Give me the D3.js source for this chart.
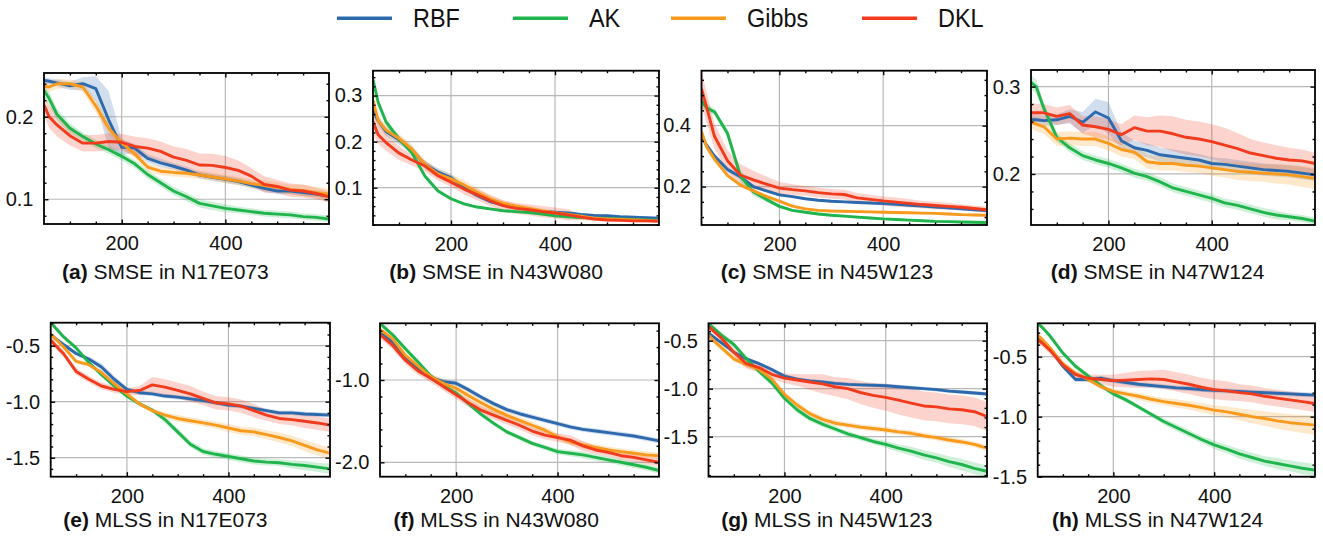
<!DOCTYPE html>
<html><head><meta charset="utf-8">
<script src="https://cdn.jsdelivr.net/npm/d3@7"></script>
<style>
body{margin:0;background:#fff}
svg{display:block}
text{font-family:"Liberation Sans",Arial,Helvetica,sans-serif;fill:#111}
</style></head><body>
<svg id="chart" width="1323" height="546"></svg>
<script>
// ---------------- data ----------------
const xs = [50,60,75,100,125,150,175,200,225,250,275,300,325,350,375,400,425,450,475,500,525,550,575,600];
const methods = ["RBF","AK","Gibbs","DKL"];
const colors = ["#2c6aad","#1fb54c","#f99a1c","#f23b1c"];

// (a) SMSE in N17E073
const a_RBF   = [0.244,0.243,0.241,0.2375,0.240,0.234,0.196,0.163,0.162,0.1496,0.144,0.140,0.1354,0.1294,0.1266,0.1241,0.1213,0.1173,0.1132,0.110,0.110,0.108,0.1064,0.104];
const a_AK    = [0.232,0.222,0.203,0.186,0.176,0.167,0.160,0.152,0.143,0.130,0.120,0.110,0.103,0.095,0.092,0.089,0.087,0.085,0.083,0.082,0.081,0.079,0.078,0.076];
const a_Gibbs = [0.237,0.236,0.240,0.240,0.236,0.213,0.186,0.168,0.155,0.139,0.134,0.1325,0.1315,0.1294,0.127,0.1245,0.122,0.119,0.117,0.1145,0.112,0.1105,0.108,0.106];
const a_DKL   = [0.214,0.200,0.190,0.177,0.168,0.168,0.170,0.169,0.164,0.162,0.158,0.151,0.147,0.1415,0.141,0.1385,0.135,0.128,0.118,0.1155,0.111,0.110,0.107,0.103];
const a_RBF_sd   = [0.004,0.004,0.004,0.005,0.008,0.015,0.035,0.01,0.005,0.005,0.005,0.004,0.004,0.004,0.004,0.004,0.004,0.004,0.004,0.004,0.004,0.004,0.004,0.004];
const a_AK_sd    = [0.008,0.008,0.007,0.006,0.005,0.005,0.005,0.005,0.005,0.005,0.005,0.005,0.005,0.005,0.005,0.005,0.004,0.004,0.004,0.004,0.004,0.004,0.004,0.004];
const a_Gibbs_sd = [0.006,0.006,0.006,0.005,0.006,0.008,0.008,0.006,0.005,0.005,0.005,0.005,0.005,0.005,0.005,0.005,0.005,0.005,0.006,0.006,0.006,0.007,0.007,0.007];
const a_DKL_sd   = [0.012,0.014,0.014,0.012,0.010,0.010,0.010,0.010,0.012,0.012,0.012,0.013,0.014,0.014,0.014,0.014,0.012,0.010,0.010,0.008,0.008,0.008,0.007,0.007];

// (b) SMSE in N43W080
const b_RBF   = [0.268,0.245,0.222,0.204,0.182,0.150,0.134,0.122,0.100,0.083,0.070,0.062,0.058,0.053,0.049,0.047,0.045,0.042,0.040,0.039,0.037,0.036,0.035,0.034];
const b_AK    = [0.335,0.285,0.243,0.206,0.175,0.125,0.093,0.076,0.065,0.058,0.054,0.050,0.048,0.046,0.043,0.039,0.037,0.035,0.034,0.033,0.032,0.031,0.030,0.029];
const b_Gibbs = [0.290,0.245,0.225,0.207,0.183,0.150,0.130,0.119,0.106,0.090,0.076,0.066,0.060,0.055,0.050,0.046,0.042,0.038,0.034,0.032,0.031,0.030,0.029,0.028];
const b_DKL   = [0.243,0.215,0.198,0.175,0.160,0.147,0.126,0.112,0.097,0.085,0.072,0.061,0.055,0.052,0.048,0.045,0.041,0.036,0.032,0.030,0.029,0.028,0.028,0.027];
const b_RBF_sd   = [0.012,0.010,0.010,0.010,0.008,0.008,0.008,0.008,0.006,0.005,0.004,0.003,0.003,0.003,0.003,0.003,0.003,0.003,0.003,0.003,0.003,0.003,0.003,0.003];
const b_AK_sd    = [0.015,0.010,0.008,0.006,0.005,0.005,0.004,0.004,0.003,0.003,0.003,0.003,0.003,0.003,0.003,0.003,0.003,0.003,0.003,0.003,0.003,0.003,0.003,0.003];
const b_Gibbs_sd = [0.012,0.012,0.012,0.010,0.010,0.010,0.010,0.010,0.010,0.010,0.008,0.006,0.005,0.005,0.004,0.004,0.004,0.004,0.003,0.003,0.003,0.003,0.003,0.003];
const b_DKL_sd   = [0.025,0.020,0.018,0.015,0.012,0.012,0.010,0.010,0.012,0.012,0.012,0.012,0.012,0.012,0.012,0.012,0.012,0.006,0.004,0.003,0.003,0.003,0.003,0.003];

// (c) SMSE in N45W123
const c_RBF   = [0.364,0.335,0.300,0.256,0.232,0.200,0.186,0.173,0.167,0.160,0.155,0.152,0.150,0.148,0.146,0.144,0.142,0.139,0.136,0.133,0.130,0.127,0.124,0.121];
const c_AK    = [0.480,0.458,0.445,0.375,0.235,0.182,0.158,0.135,0.122,0.116,0.110,0.106,0.103,0.100,0.097,0.094,0.092,0.090,0.088,0.086,0.085,0.084,0.083,0.082];
const c_Gibbs = [0.380,0.330,0.290,0.237,0.205,0.186,0.168,0.152,0.136,0.127,0.122,0.120,0.119,0.118,0.117,0.116,0.115,0.114,0.113,0.112,0.110,0.108,0.107,0.106];
const c_DKL   = [0.520,0.460,0.365,0.285,0.238,0.222,0.208,0.195,0.190,0.186,0.180,0.176,0.174,0.163,0.158,0.153,0.149,0.145,0.141,0.138,0.135,0.132,0.128,0.124];
const c_RBF_sd   = [0.010,0.010,0.010,0.010,0.008,0.006,0.005,0.005,0.004,0.004,0.004,0.004,0.004,0.004,0.004,0.004,0.004,0.004,0.004,0.004,0.004,0.004,0.004,0.004];
const c_AK_sd    = [0.020,0.015,0.010,0.015,0.020,0.012,0.008,0.006,0.004,0.004,0.004,0.004,0.004,0.004,0.004,0.004,0.004,0.004,0.004,0.004,0.004,0.004,0.004,0.004];
const c_Gibbs_sd = [0.015,0.012,0.010,0.008,0.006,0.005,0.005,0.005,0.005,0.004,0.004,0.004,0.004,0.004,0.004,0.004,0.004,0.004,0.004,0.004,0.004,0.004,0.004,0.004];
const c_DKL_sd   = [0.060,0.050,0.040,0.035,0.035,0.030,0.025,0.020,0.018,0.016,0.016,0.016,0.016,0.016,0.015,0.015,0.015,0.014,0.012,0.012,0.012,0.010,0.010,0.010];

// (d) SMSE in N47W124
const d_RBF   = [0.262,0.262,0.261,0.262,0.266,0.259,0.271,0.264,0.238,0.230,0.227,0.222,0.220,0.218,0.216,0.212,0.211,0.209,0.207,0.205,0.204,0.203,0.201,0.199];
const d_AK    = [0.305,0.300,0.275,0.242,0.230,0.221,0.216,0.212,0.207,0.201,0.197,0.191,0.184,0.180,0.176,0.172,0.167,0.164,0.160,0.156,0.153,0.151,0.149,0.146];
const d_Gibbs = [0.260,0.257,0.254,0.240,0.241,0.240,0.240,0.235,0.228,0.225,0.214,0.212,0.212,0.210,0.209,0.207,0.205,0.203,0.202,0.201,0.200,0.199,0.197,0.195];
const d_DKL   = [0.270,0.270,0.270,0.266,0.269,0.256,0.254,0.251,0.245,0.253,0.249,0.249,0.246,0.242,0.240,0.237,0.233,0.229,0.224,0.221,0.218,0.216,0.215,0.212];
const d_RBF_sd   = [0.006,0.006,0.006,0.006,0.008,0.012,0.015,0.018,0.010,0.008,0.008,0.008,0.008,0.008,0.007,0.007,0.007,0.007,0.007,0.007,0.007,0.007,0.007,0.007];
const d_AK_sd    = [0.008,0.008,0.006,0.005,0.005,0.005,0.005,0.005,0.005,0.005,0.005,0.005,0.005,0.005,0.005,0.005,0.005,0.005,0.005,0.005,0.005,0.004,0.004,0.004];
const d_Gibbs_sd = [0.008,0.008,0.008,0.008,0.008,0.008,0.008,0.008,0.008,0.008,0.008,0.008,0.008,0.008,0.008,0.009,0.009,0.010,0.010,0.010,0.011,0.011,0.012,0.012];
const d_DKL_sd   = [0.012,0.010,0.010,0.010,0.010,0.010,0.012,0.012,0.012,0.014,0.016,0.018,0.020,0.020,0.020,0.020,0.020,0.018,0.016,0.015,0.015,0.014,0.013,0.012];

// (e) MLSS in N17E073
const e_RBF   = [-0.40,-0.44,-0.49,-0.57,-0.62,-0.69,-0.80,-0.89,-0.92,-0.93,-0.95,-0.96,-0.975,-0.99,-1.01,-1.03,-1.04,-1.06,-1.08,-1.10,-1.10,-1.11,-1.115,-1.12];
const e_AK    = [-0.29,-0.345,-0.42,-0.52,-0.65,-0.76,-0.86,-0.95,-1.02,-1.075,-1.16,-1.27,-1.38,-1.445,-1.47,-1.49,-1.51,-1.53,-1.54,-1.545,-1.56,-1.57,-1.585,-1.60];
const e_Gibbs = [-0.40,-0.44,-0.51,-0.64,-0.67,-0.74,-0.84,-0.93,-1.02,-1.08,-1.12,-1.15,-1.17,-1.19,-1.21,-1.235,-1.26,-1.27,-1.295,-1.32,-1.35,-1.39,-1.43,-1.46];
const e_DKL   = [-0.45,-0.50,-0.57,-0.73,-0.80,-0.86,-0.89,-0.91,-0.90,-0.85,-0.87,-0.90,-0.93,-0.97,-1.01,-1.02,-1.04,-1.08,-1.12,-1.15,-1.16,-1.175,-1.19,-1.21];
const e_RBF_sd   = [0.02,0.02,0.02,0.02,0.02,0.03,0.03,0.02,0.02,0.02,0.02,0.02,0.02,0.02,0.02,0.02,0.02,0.02,0.02,0.02,0.02,0.02,0.02,0.02];
const e_AK_sd    = [0.02,0.02,0.02,0.02,0.02,0.02,0.02,0.02,0.02,0.02,0.03,0.03,0.03,0.03,0.03,0.03,0.03,0.03,0.03,0.03,0.035,0.04,0.04,0.045];
const e_Gibbs_sd = [0.02,0.02,0.02,0.02,0.02,0.02,0.02,0.02,0.02,0.02,0.025,0.03,0.03,0.03,0.03,0.035,0.035,0.04,0.04,0.045,0.045,0.05,0.05,0.05];
const e_DKL_sd   = [0.03,0.03,0.03,0.03,0.03,0.03,0.03,0.03,0.04,0.07,0.07,0.07,0.07,0.06,0.06,0.06,0.06,0.06,0.05,0.05,0.05,0.06,0.06,0.06];

// (f) MLSS in N43W080
const f_RBF   = [-0.43,-0.47,-0.54,-0.72,-0.86,-0.97,-1.02,-1.04,-1.12,-1.21,-1.29,-1.36,-1.41,-1.45,-1.49,-1.53,-1.57,-1.60,-1.62,-1.64,-1.66,-1.68,-1.71,-1.74];
const f_AK    = [-0.31,-0.37,-0.45,-0.62,-0.78,-0.95,-1.07,-1.16,-1.29,-1.42,-1.53,-1.63,-1.70,-1.77,-1.82,-1.87,-1.89,-1.91,-1.94,-1.97,-2.00,-2.03,-2.06,-2.10];
const f_Gibbs = [-0.39,-0.43,-0.50,-0.70,-0.83,-0.96,-1.04,-1.10,-1.19,-1.28,-1.36,-1.43,-1.49,-1.55,-1.61,-1.69,-1.75,-1.79,-1.82,-1.85,-1.87,-1.89,-1.91,-1.92];
const f_DKL   = [-0.45,-0.50,-0.58,-0.76,-0.89,-0.98,-1.08,-1.18,-1.28,-1.37,-1.43,-1.49,-1.55,-1.62,-1.67,-1.70,-1.73,-1.80,-1.85,-1.88,-1.92,-1.94,-1.97,-2.00];
const f_RBF_sd   = [0.03,0.03,0.03,0.03,0.03,0.03,0.03,0.03,0.03,0.03,0.03,0.03,0.03,0.03,0.03,0.03,0.03,0.03,0.03,0.03,0.03,0.03,0.03,0.03];
const f_AK_sd    = [0.03,0.03,0.03,0.03,0.03,0.03,0.03,0.03,0.03,0.03,0.03,0.03,0.03,0.03,0.03,0.035,0.035,0.04,0.04,0.04,0.04,0.04,0.04,0.04];
const f_Gibbs_sd = [0.04,0.04,0.04,0.04,0.04,0.04,0.05,0.07,0.08,0.08,0.06,0.05,0.04,0.04,0.04,0.04,0.04,0.04,0.04,0.04,0.04,0.04,0.04,0.04];
const f_DKL_sd   = [0.05,0.05,0.05,0.05,0.05,0.05,0.05,0.05,0.05,0.05,0.05,0.05,0.05,0.05,0.05,0.05,0.06,0.06,0.05,0.05,0.05,0.05,0.05,0.05];

// (g) MLSS in N45W123
const g_RBF   = [-0.42,-0.46,-0.52,-0.62,-0.69,-0.74,-0.80,-0.87,-0.90,-0.92,-0.93,-0.945,-0.955,-0.96,-0.965,-0.97,-0.98,-0.99,-1.00,-1.01,-1.025,-1.035,-1.045,-1.055];
const g_AK    = [-0.32,-0.37,-0.44,-0.54,-0.69,-0.82,-0.94,-1.10,-1.22,-1.31,-1.37,-1.42,-1.47,-1.51,-1.55,-1.58,-1.62,-1.65,-1.69,-1.72,-1.76,-1.79,-1.83,-1.86];
const g_Gibbs = [-0.44,-0.50,-0.57,-0.69,-0.75,-0.80,-0.90,-1.06,-1.17,-1.26,-1.32,-1.36,-1.38,-1.40,-1.415,-1.43,-1.45,-1.465,-1.49,-1.51,-1.535,-1.555,-1.58,-1.62];
const g_DKL   = [-0.35,-0.40,-0.47,-0.62,-0.74,-0.78,-0.85,-0.89,-0.91,-0.93,-0.95,-0.98,-1.00,-1.04,-1.07,-1.09,-1.12,-1.15,-1.18,-1.19,-1.21,-1.22,-1.24,-1.29];
const g_RBF_sd   = [0.02,0.02,0.02,0.02,0.02,0.02,0.02,0.02,0.02,0.02,0.02,0.02,0.02,0.02,0.02,0.02,0.02,0.02,0.02,0.02,0.02,0.02,0.02,0.02];
const g_AK_sd    = [0.03,0.03,0.03,0.03,0.03,0.03,0.03,0.03,0.03,0.03,0.03,0.03,0.03,0.03,0.03,0.035,0.04,0.045,0.05,0.05,0.055,0.06,0.06,0.06];
const g_Gibbs_sd = [0.03,0.03,0.03,0.03,0.03,0.03,0.03,0.03,0.03,0.03,0.03,0.03,0.03,0.03,0.03,0.03,0.03,0.03,0.03,0.03,0.03,0.03,0.03,0.03];
const g_DKL_sd   = [0.03,0.03,0.03,0.04,0.05,0.05,0.05,0.05,0.06,0.08,0.10,0.10,0.11,0.12,0.13,0.14,0.15,0.15,0.15,0.15,0.15,0.15,0.15,0.15];

// (h) MLSS in N47W124
const h_RBF   = [-0.33,-0.37,-0.44,-0.58,-0.69,-0.69,-0.68,-0.70,-0.715,-0.73,-0.74,-0.75,-0.76,-0.765,-0.775,-0.78,-0.785,-0.79,-0.795,-0.80,-0.805,-0.81,-0.815,-0.82];
const h_AK    = [-0.22,-0.26,-0.33,-0.47,-0.58,-0.66,-0.74,-0.81,-0.86,-0.92,-0.98,-1.04,-1.09,-1.14,-1.19,-1.235,-1.27,-1.31,-1.34,-1.37,-1.39,-1.41,-1.43,-1.445];
const h_Gibbs = [-0.32,-0.36,-0.43,-0.56,-0.64,-0.69,-0.75,-0.79,-0.81,-0.83,-0.855,-0.875,-0.89,-0.905,-0.925,-0.945,-0.96,-0.98,-1.00,-1.015,-1.035,-1.05,-1.06,-1.07];
const h_DKL   = [-0.36,-0.39,-0.45,-0.57,-0.65,-0.68,-0.69,-0.70,-0.695,-0.69,-0.685,-0.69,-0.71,-0.73,-0.755,-0.775,-0.785,-0.80,-0.81,-0.83,-0.845,-0.86,-0.875,-0.89];
const h_RBF_sd   = [0.02,0.02,0.02,0.02,0.02,0.02,0.02,0.02,0.02,0.02,0.02,0.02,0.02,0.02,0.02,0.02,0.02,0.02,0.02,0.02,0.02,0.02,0.02,0.02];
const h_AK_sd    = [0.02,0.02,0.02,0.02,0.02,0.02,0.02,0.02,0.02,0.02,0.02,0.025,0.03,0.03,0.03,0.035,0.035,0.04,0.04,0.04,0.045,0.045,0.05,0.05];
const h_Gibbs_sd = [0.02,0.02,0.02,0.02,0.02,0.02,0.02,0.02,0.025,0.03,0.03,0.03,0.035,0.035,0.04,0.04,0.045,0.05,0.055,0.06,0.065,0.07,0.075,0.08];
const h_DKL_sd   = [0.03,0.03,0.03,0.03,0.03,0.03,0.04,0.05,0.06,0.07,0.07,0.08,0.08,0.08,0.08,0.08,0.08,0.07,0.07,0.07,0.07,0.07,0.07,0.07];

const xTicks = [200,400];

// ---------------- layout ----------------
const panels = [
  {tag:"(a)", title:" SMSE in N17E073", data:[[a_RBF,a_RBF_sd],[a_AK,a_AK_sd],[a_Gibbs,a_Gibbs_sd],[a_DKL,a_DKL_sd]], yDom:[0.070,0.253], yTicks:[0.1,0.2], yMinor:0.02, box:[44,73,329,224], col:0, row:0},
  {tag:"(b)", title:" SMSE in N43W080", data:[[b_RBF,b_RBF_sd],[b_AK,b_AK_sd],[b_Gibbs,b_Gibbs_sd],[b_DKL,b_DKL_sd]], yDom:[0.019,0.354], yTicks:[0.1,0.2,0.3], yMinor:0.02, box:[373,70.7,659,225], col:1, row:0},
  {tag:"(c)", title:" SMSE in N45W123", data:[[c_RBF,c_RBF_sd],[c_AK,c_AK_sd],[c_Gibbs,c_Gibbs_sd],[c_DKL,c_DKL_sd]], yDom:[0.074,0.58], yTicks:[0.2,0.4], yMinor:0.05, box:[701.5,70.7,987,225], col:2, row:0},
  {tag:"(d)", title:" SMSE in N47W124", data:[[d_RBF,d_RBF_sd],[d_AK,d_AK_sd],[d_Gibbs,d_Gibbs_sd],[d_DKL,d_DKL_sd]], yDom:[0.1416,0.319], yTicks:[0.2,0.3], yMinor:0.02, box:[1031,70,1315,225], col:3, row:0},
  {tag:"(e)", title:" MLSS in N17E073", data:[[e_RBF,e_RBF_sd],[e_AK,e_AK_sd],[e_Gibbs,e_Gibbs_sd],[e_DKL,e_DKL_sd]], yDom:[-1.67,-0.295], yTicks:[-1.5,-1.0,-0.5], yMinor:0.1, box:[50.7,322.7,330,476.7], col:0, row:1},
  {tag:"(f)", title:" MLSS in N43W080", data:[[f_RBF,f_RBF_sd],[f_AK,f_AK_sd],[f_Gibbs,f_Gibbs_sd],[f_DKL,f_DKL_sd]], yDom:[-2.175,-0.311], yTicks:[-2.0,-1.0], yMinor:0.2, box:[380,323.3,659,476.7], col:1, row:1},
  {tag:"(g)", title:" MLSS in N45W123", data:[[g_RBF,g_RBF_sd],[g_AK,g_AK_sd],[g_Gibbs,g_Gibbs_sd],[g_DKL,g_DKL_sd]], yDom:[-1.917,-0.319], yTicks:[-1.5,-1.0,-0.5], yMinor:0.1, box:[708.5,323.3,987,476.7], col:2, row:1},
  {tag:"(h)", title:" MLSS in N47W124", data:[[h_RBF,h_RBF_sd],[h_AK,h_AK_sd],[h_Gibbs,h_Gibbs_sd],[h_DKL,h_DKL_sd]], yDom:[-1.5,-0.222], yTicks:[-1.5,-1.0,-0.5], yMinor:0.1, box:[1037.7,323.3,1315,476.7], col:3, row:1}
];

const svg = d3.select("#chart");
const colW = 1323/4;
const captionY = [279, 527];
const fmt = v => v.toFixed(1);

function minorTicks(dom, step, majors){
  const lo = Math.min(dom[0],dom[1]), hi = Math.max(dom[0],dom[1]);
  const out = [];
  for(let k=Math.ceil(lo/step - 1e-9); k*step <= hi + 1e-9; k++){
    const v = +(k*step).toFixed(6);
    if(v<=lo+1e-9 || v>=hi-1e-9) continue;
    if(majors.some(m=>Math.abs(m-v)<1e-9)) continue;
    out.push(v);
  }
  return out;
}

panels.forEach((p,pi)=>{
  const [x0,y0,x1,y1] = p.box;
  const x = d3.scaleLinear().domain([50,600]).range([x0,x1]);
  const y = d3.scaleLinear().domain(p.yDom).range([y1,y0]);
  const g = svg.append("g");
  const clipId = "clip"+pi;
  svg.append("clipPath").attr("id",clipId).append("rect")
    .attr("x",x0).attr("y",y0).attr("width",x1-x0).attr("height",y1-y0);

  // grid
  g.selectAll(".gx").data(xTicks).join("line")
    .attr("x1",d=>x(d)).attr("x2",d=>x(d)).attr("y1",y0).attr("y2",y1)
    .attr("stroke","#b8b8b8").attr("stroke-width",1.2);
  g.selectAll(".gy").data(p.yTicks).join("line")
    .attr("x1",x0).attr("x2",x1).attr("y1",d=>y(d)).attr("y2",d=>y(d))
    .attr("stroke","#b8b8b8").attr("stroke-width",1.2);

  const plot = g.append("g").attr("clip-path",`url(#${clipId})`);
  const area = d3.area().x((d,i)=>x(xs[i])).y0(d=>y(d[0]-d[1])).y1(d=>y(d[0]+d[1]));
  const line = d3.line().x((d,i)=>x(xs[i])).y(d=>y(d));
  p.data.forEach(([vals,sd],si)=>{
    plot.append("path").datum(vals.map((v,i)=>[v,sd[i]]))
      .attr("d",area).attr("fill",colors[si]).attr("fill-opacity",0.22).attr("stroke","none");
  });
  p.data.forEach(([vals],si)=>{
    plot.append("path").datum(vals).attr("d",line)
      .attr("fill","none").attr("stroke",colors[si]).attr("stroke-width",2.9)
      .attr("stroke-linejoin","round");
  });

  // axes with inward ticks
  const xMinor = minorTicks([50,600],50,xTicks);
  const yMin = minorTicks(p.yDom,p.yMinor,p.yTicks);
  const styleAxis = sel => { sel.select(".domain").remove(); sel.selectAll("line").attr("stroke","#000").attr("stroke-width",1.4); sel.selectAll("text").attr("font-size",20).attr("font-family","Liberation Sans, Arial, sans-serif").attr("fill","#111"); };

  g.append("g").attr("transform",`translate(0,${y1})`)
    .call(d3.axisBottom(x).tickValues(xTicks).tickSize(-4.5).tickPadding(p.row===0?12:12.5).tickFormat(d3.format("d"))).call(styleAxis);
  g.append("g").attr("transform",`translate(0,${y1})`)
    .call(d3.axisBottom(x).tickValues(xMinor).tickSize(-2.5).tickFormat("")).call(styleAxis);
  g.append("g").attr("transform",`translate(0,${y0})`)
    .call(d3.axisTop(x).tickValues(xTicks).tickSize(-4.5).tickFormat("")).call(styleAxis);
  g.append("g").attr("transform",`translate(0,${y0})`)
    .call(d3.axisTop(x).tickValues(xMinor).tickSize(-2.5).tickFormat("")).call(styleAxis);
  g.append("g").attr("transform",`translate(${x0},0)`)
    .call(d3.axisLeft(y).tickValues(p.yTicks).tickSize(-4.5).tickPadding(10.5).tickFormat(fmt)).call(styleAxis);
  g.append("g").attr("transform",`translate(${x0},0)`)
    .call(d3.axisLeft(y).tickValues(yMin).tickSize(-2.5).tickFormat("")).call(styleAxis);
  g.append("g").attr("transform",`translate(${x1},0)`)
    .call(d3.axisRight(y).tickValues(p.yTicks).tickSize(-4.5).tickFormat("")).call(styleAxis);
  g.append("g").attr("transform",`translate(${x1},0)`)
    .call(d3.axisRight(y).tickValues(yMin).tickSize(-2.5).tickFormat("")).call(styleAxis);

  // frame
  g.append("rect").attr("x",x0).attr("y",y0).attr("width",x1-x0).attr("height",y1-y0)
    .attr("fill","none").attr("stroke","#000").attr("stroke-width",1.8);

  // caption
  const t = svg.append("text").attr("x",colW*p.col+colW/2).attr("y",captionY[p.row])
    .attr("text-anchor","middle").attr("font-size",21);
  t.append("tspan").attr("font-weight","bold").text(p.tag);
  t.append("tspan").text(p.title);
});

// legend
const legX = [337,513,671,862];
const leg = svg.append("g");
methods.forEach((m,i)=>{
  leg.append("line").attr("x1",legX[i]).attr("x2",legX[i]+55).attr("y1",18.3).attr("y2",18.3)
    .attr("stroke",colors[i]).attr("stroke-width",3.5);
  leg.append("text").attr("transform",`translate(${legX[i]+76},27.3) scale(0.9,1)`)
    .attr("font-size",26).text(m);
});
</script>
</body></html>
